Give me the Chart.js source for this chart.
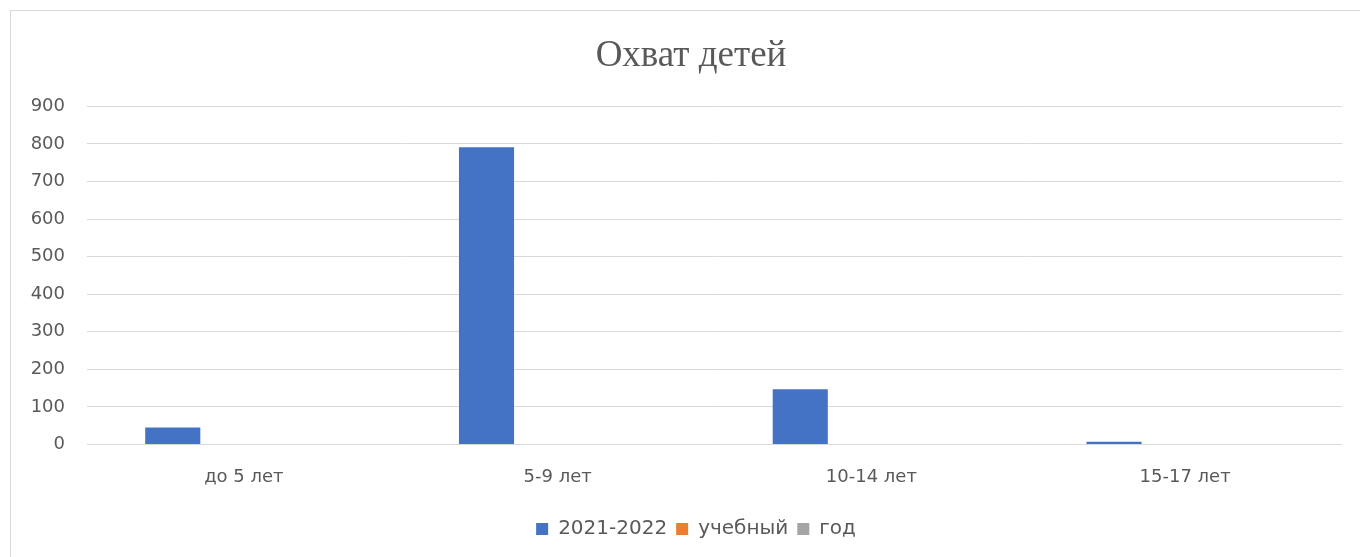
<!DOCTYPE html>
<html>
<head>
<meta charset="utf-8">
<script src="https://cdn.jsdelivr.net/npm/chart.js@4/dist/chart.umd.min.js"></script>
<style>
  html, body { margin: 0; padding: 0; background: #fff; overflow: hidden; }
  #wrap { position: absolute; left: 0; top: 0; width: 1360px; height: 557px; }
  #frame { position: absolute; left: 10px; top: 10px; width: 1400px; height: 600px;
    border-left: 1px solid #d9d9d9; border-top: 1px solid #d9d9d9; }
</style>
</head>
<body>
<div id="frame"></div>
<div id="wrap"><canvas id="grafica"></canvas></div>
<script>
// Данные графика
const categorias = ['до 5 лет', '5-9 лет', '10-14 лет', '15-17 лет'];
const serie2021 = [45, 791, 147, 7];
const serieUchebny = [0, 0, 0, 0];
const serieGod = [0, 0, 0, 0];
const ticksY = [0, 100, 200, 300, 400, 500, 600, 700, 800, 900];

const gris = '#595959';
const fuente = "'DejaVu Sans', sans-serif";

// el título y la leyenda del original están algo desplazados a la derecha
const desplazar = {
  id: 'desplazar',
  afterLayout(chart) {
    chart.titleBlock.left += 30;
    chart.legend.left += 20;
    chart.legend.right += 20;
  }
};

const ctx = document.getElementById('grafica').getContext('2d');

new Chart(ctx, {
  type: 'bar',
  data: {
    labels: categorias,
    datasets: [
      { label: '2021-2022', data: serie2021, backgroundColor: '#4472C4' },
      { label: 'учебный', data: serieUchebny, backgroundColor: '#ED7D31' },
      { label: 'год', data: serieGod, backgroundColor: '#A5A5A5' }
    ]
  },
  options: {
    responsive: true,
    maintainAspectRatio: false,
    animation: false,
    categoryPercentage: 0.68,
    barPercentage: 0.775,
    layout: { padding: { left: 10, right: 18, top: 0, bottom: 8 } },
    plugins: {
      title: {
        display: true,
        text: 'Охват детей',
        color: gris,
        font: { family: "'Liberation Serif', serif", size: 37, weight: 'normal' },
        padding: { top: 34, bottom: 28 }
      },
      legend: {
        position: 'bottom',
        labels: {
          color: gris,
          font: { family: fuente, size: 20 },
          boxWidth: 12,
          boxHeight: 12,
          padding: 9
        }
      },
      tooltip: { enabled: false }
    },
    scales: {
      x: {
        grid: { display: false, drawTicks: false },
        border: { display: false },
        ticks: { color: gris, font: { family: fuente, size: 18 }, padding: 22 }
      },
      y: {
        min: 0,
        max: 900,
        afterBuildTicks: scale => { scale.ticks = ticksY.map(v => ({ value: v })); },
        afterFit: scale => { scale.width = 77; },
        grid: { color: '#d9d9d9', drawTicks: false },
        border: { display: false },
        ticks: { color: gris, font: { family: fuente, size: 18 }, padding: 22 }
      }
    }
  },
  plugins: [desplazar]
});
</script>
</body>
</html>
